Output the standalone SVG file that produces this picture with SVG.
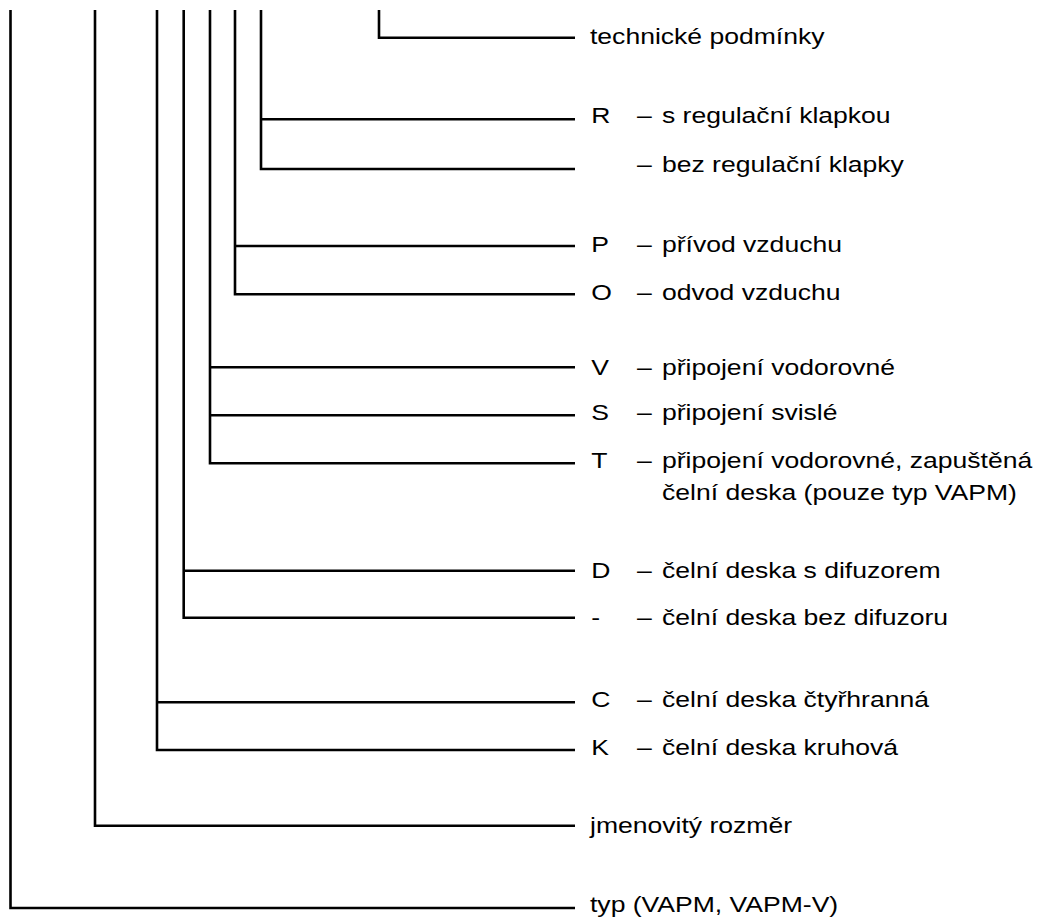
<svg xmlns="http://www.w3.org/2000/svg" width="1037" height="917" viewBox="0 0 1037 917">
<style>
.c{fill:none;stroke:#000;stroke-width:2.6;stroke-linecap:butt;stroke-linejoin:miter}
text{font-family:"Liberation Sans",Arial,sans-serif;font-size:22.5px;fill:#000}
</style>
<rect width="1037" height="917" fill="#fff"/>
<g id="connectors">
<path class="c" d="M10.5 10 V908 H575"/>
<path class="c" d="M95 10 V825.7 H575"/>
<path class="c" d="M157 10 V750 H575 M157 702.3 H575"/>
<path class="c" d="M183.7 10 V617.7 H575 M183.7 570.7 H575"/>
<path class="c" d="M210 10 V463.3 H575 M210 415.3 H575 M210 367.3 H575"/>
<path class="c" d="M235 10 V294.3 H575 M235 246 H575"/>
<path class="c" d="M261 10 V169 H575 M261 119.3 H575"/>
<path class="c" d="M379 10 V37.7 H575"/>
</g>
<g transform="scale(1.18 1)">
<g id="n-tech"><text x="500" y="44">technické podmínky</text></g>
<g id="n-R"><text x="501" y="123.5">R</text><text x="539.8" y="123.5">–</text><text x="561" y="123.5">s regulační klapkou</text></g>
<g id="n-noR"><text x="539.8" y="172">–</text><text x="561" y="172">bez regulační klapky</text></g>
<g id="n-P"><text x="501" y="252">P</text><text x="539.8" y="252">–</text><text x="561" y="252">přívod vzduchu</text></g>
<g id="n-O"><text x="501" y="300">O</text><text x="539.8" y="300">–</text><text x="561" y="300">odvod vzduchu</text></g>
<g id="n-V"><text x="501" y="375">V</text><text x="539.8" y="375">–</text><text x="561" y="375">připojení vodorovné</text></g>
<g id="n-S"><text x="501" y="420.5">S</text><text x="539.8" y="420.5">–</text><text x="561" y="420.5">připojení svislé</text></g>
<g id="n-T"><text x="501" y="468">T</text><text x="539.8" y="468">–</text><text x="561" y="468">připojení vodorovné, zapuštěná</text><text x="561" y="500">čelní deska (pouze typ VAPM)</text></g>
<g id="n-D"><text x="501" y="578">D</text><text x="539.8" y="578">–</text><text x="561" y="578">čelní deska s difuzorem</text></g>
<g id="n-noD"><text x="501" y="625">-</text><text x="539.8" y="625">–</text><text x="561" y="625">čelní deska bez difuzoru</text></g>
<g id="n-C"><text x="501" y="707">C</text><text x="539.8" y="707">–</text><text x="561" y="707">čelní deska čtyřhranná</text></g>
<g id="n-K"><text x="501" y="755">K</text><text x="539.8" y="755">–</text><text x="561" y="755">čelní deska kruhová</text></g>
<g id="n-size"><text x="500" y="833">jmenovitý rozměr</text></g>
<g id="n-typ"><text x="500" y="912">typ (VAPM, VAPM-V)</text></g>
</g>
</svg>
